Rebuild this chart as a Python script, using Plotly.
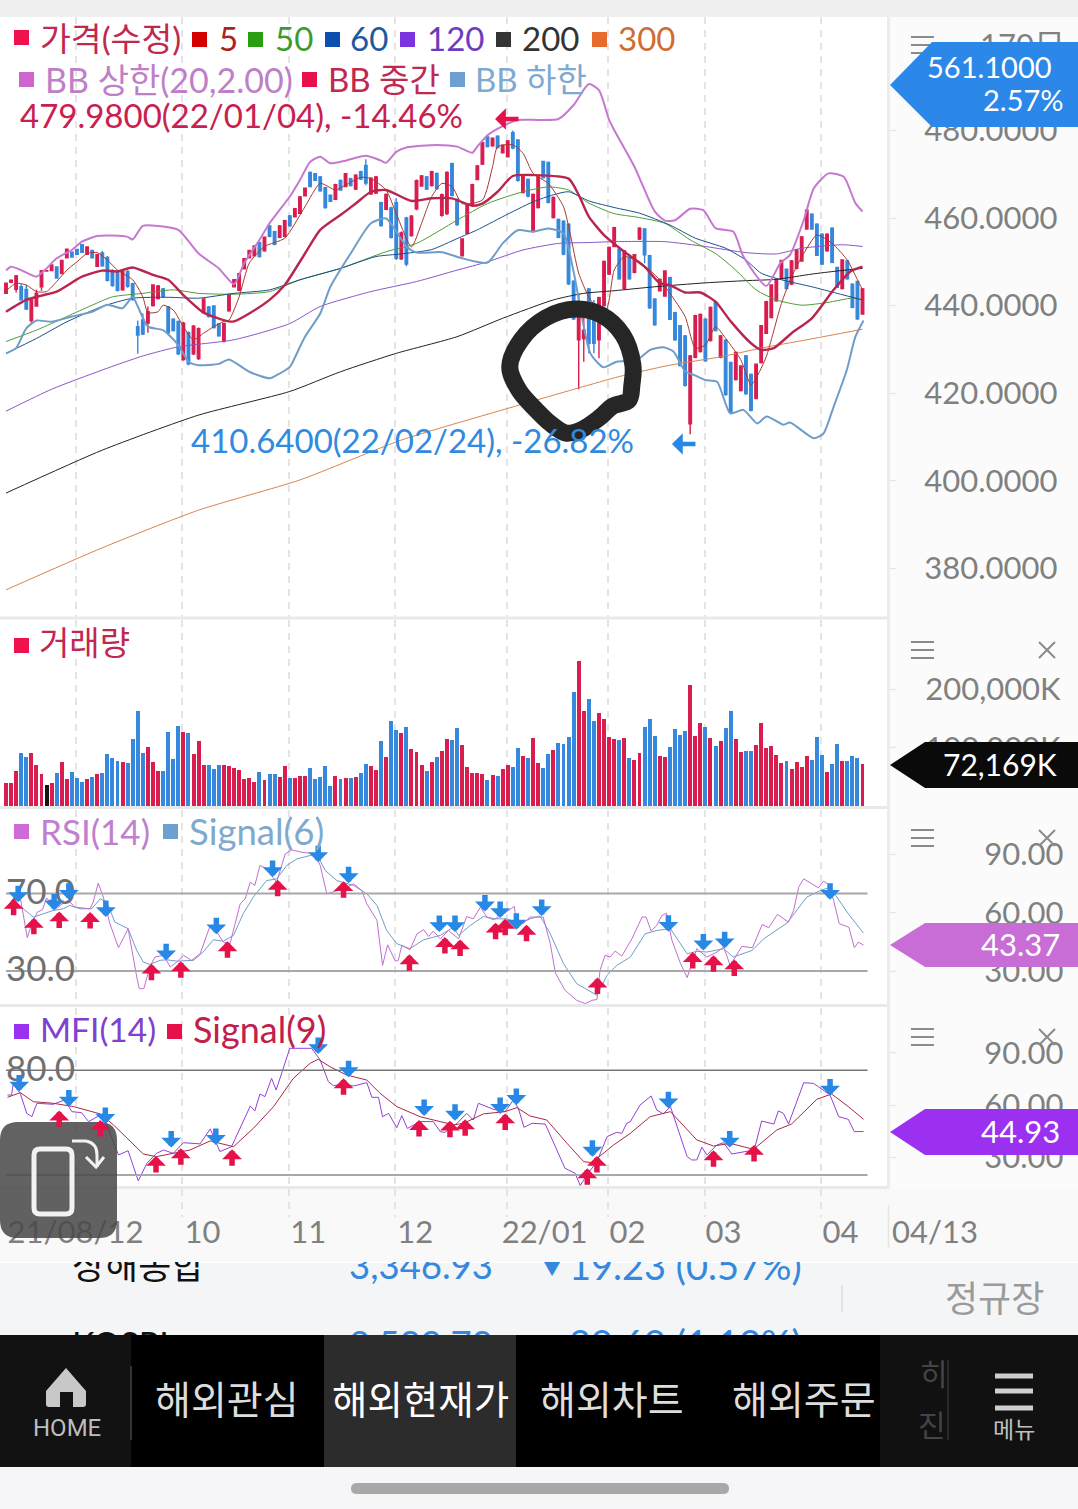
import plotly.graph_objects as go

# ---------- daily candles (index = trading day in the window) ----------
candle_open = [442.8,445.3,443.7,444.3,443.7,436.6,439.9,444.3,447.9,448.0,
448.8,447.3,450.9,452.2,452.8,453.9,451.7,452.6,449.0,452.0,
451.0,448.0,447.8,443.6,447.8,445.0,435.2,436.7,436.0,440.0,
441.6,443.8,439.7,436.9,436.4,427.7,433.8,429.0,427.9,438.4,
439.7,439.9,435.8,431.9,438.8,444.3,443.5,448.4,450.9,451.4,
454.4,452.5,458.2,456.9,455.6,455.8,460.5,460.3,461.1,465.1,
470.4,470.1,469.4,466.9,465.2,464.3,468.6,467.2,469.0,466.6,
470.6,472.0,465.5,465.7,463.5,462.0,462.3,463.5,450.7,460.0,
456.0,462.1,467.3,469.4,467.4,470.2,460.6,461.0,472.4,464.2,
451.4,456.5,462.9,468.8,472.3,478.5,476.5,478.7,474.9,474.0,
479.5,477.8,465.8,468.8,456.9,462.4,472.9,472.7,460.1,459.7,
459.3,458.6,445.6,432.2,432.5,443.8,439.0,432.2,440.0,447.2,
453.5,452.9,443.9,451.0,447.6,455.2,457.5,451.4,441.5,443.4,
442.2,446.4,438.4,435.4,433.1,413.0,428.2,429.5,436.9,432.0,
440.7,428.2,432.1,427.0,423.1,420.6,428.5,424.3,418.8,427.0,
433.7,437.3,441.1,446.1,448.3,444.9,448.5,450.2,457.5,460.9,
458.6,456.3,452.5,457.7,448.7,443.9,450.2,444.9,445.5,438.1]
candle_high = [445.1,445.9,447.0,444.9,444.7,441.4,443.6,448.1,448.1,449.4,
448.8,450.4,453.0,452.3,452.9,454.0,453.5,452.7,451.7,452.5,
451.3,448.3,448.1,448.3,448.1,445.2,436.6,438.2,439.8,444.9,
444.7,444.0,439.9,437.1,436.6,436.3,434.1,435.6,435.0,441.7,
439.9,440.1,436.0,436.1,442.7,446.0,447.5,450.8,452.7,453.7,
454.6,455.8,458.4,457.1,458.4,459.6,460.7,462.2,465.0,466.9,
470.6,470.2,469.6,467.1,465.3,467.8,468.8,470.3,469.2,470.0,
470.8,473.4,469.3,469.6,463.7,465.6,462.6,464.5,456.9,460.3,
460.7,468.8,469.8,469.6,470.8,470.4,465.6,470.7,472.7,464.5,
455.4,463.0,467.8,472.1,477.4,478.7,478.4,478.9,476.7,477.8,
479.98,478.0,469.8,469.0,465.6,469.6,473.1,472.9,464.9,459.9,
459.5,458.8,445.8,442.8,437.5,444.0,441.3,442.0,450.3,453.5,
458.0,453.1,452.7,451.2,451.8,457.9,457.7,451.6,441.7,446.2,
448.1,446.6,438.6,435.6,433.3,428.7,437.9,438.2,437.1,439.8,
440.9,433.3,432.3,427.2,429.5,426.4,428.7,424.5,426.8,435.6,
441.1,444.9,446.2,450.4,448.5,450.4,452.9,455.9,462.0,461.1,
458.8,456.5,456.5,457.9,448.9,450.6,450.4,445.1,445.7,444.0]
candle_low = [442.8,445.2,443.0,441.1,439.0,436.1,439.8,443.4,447.8,448.0,
446.2,447.2,450.8,451.0,451.6,452.1,451.6,450.8,448.9,448.9,
445.5,444.3,443.2,443.4,444.1,441.1,429.0,433.3,433.8,439.8,
441.4,441.9,433.5,434.1,428.7,427.4,426.4,428.7,427.6,438.2,
437.3,434.8,432.9,431.6,438.6,444.2,443.3,448.3,450.8,451.3,
451.0,452.3,455.6,453.8,455.4,455.6,458.0,460.2,460.9,465.0,
467.0,468.5,466.0,462.1,463.7,464.1,466.2,467.0,467.2,466.4,
468.7,467.5,465.3,465.5,458.0,461.8,455.3,450.4,450.4,449.0,
455.7,461.8,467.2,466.4,467.2,466.5,460.3,460.7,464.9,458.2,
451.2,456.3,462.7,468.7,472.1,476.1,476.3,475.9,474.8,473.8,
475.7,468.3,465.6,464.7,456.7,462.2,469.0,463.3,459.9,455.4,
451.5,444.7,436.7,420.9,427.2,429.1,429.1,428.0,439.8,447.0,
453.3,445.9,443.7,445.9,447.4,455.0,449.7,439.2,435.4,443.2,
442.0,436.7,432.0,426.1,421.5,410.64,428.0,429.3,427.2,431.8,
434.1,428.0,419.4,415.4,422.9,420.4,419.6,415.8,418.6,426.8,
433.5,437.1,440.9,446.0,443.7,444.7,448.3,450.0,457.3,457.3,
451.3,449.3,452.3,449.7,444.0,443.7,445.9,439.4,436.7,437.9]
candle_close = [445.1,445.8,446.8,441.3,439.2,441.3,442.8,448.0,448.0,449.3,
446.3,450.3,452.9,451.1,451.7,452.2,453.4,450.9,451.6,449.1,
445.8,444.6,443.5,448.1,444.4,441.4,433.3,433.5,438.6,444.7,
444.5,442.1,433.8,434.3,429.0,436.0,426.7,435.3,434.7,441.5,
437.5,435.0,433.1,435.9,442.5,445.9,447.3,450.7,452.6,453.6,
451.2,455.6,455.8,454.0,458.2,459.4,458.2,462.1,464.8,466.8,
467.2,468.6,466.2,462.4,463.8,467.6,466.4,470.1,467.4,469.8,
468.9,468.0,469.1,469.4,458.3,465.4,455.6,450.8,456.6,449.5,
460.4,468.5,469.6,466.6,470.6,466.7,465.3,470.4,465.2,458.5,
455.2,462.8,467.6,471.9,477.2,476.3,478.2,476.1,476.6,477.6,
476.0,468.6,469.6,465.0,465.4,469.4,469.2,463.6,464.7,455.6,
451.8,445.0,437.0,437.5,434.4,431.4,431.4,441.8,450.1,453.3,
457.8,446.1,452.5,446.1,451.6,457.7,451.6,439.5,435.6,446.0,
447.9,436.9,432.2,426.3,421.8,428.5,437.7,438.0,427.4,439.6,
434.3,433.1,419.7,415.7,429.3,426.2,419.9,416.1,426.6,435.4,
440.9,444.7,446.0,450.3,443.9,450.2,452.7,455.7,461.8,457.5,
451.5,449.5,456.3,449.9,444.2,450.4,446.1,439.6,437.0,443.8]
bar_index = list(range(len(candle_open)))

volume_k = [39000,39000,60700,91700,83700,91700,70500,54400,36100,40100,
56200,75600,47000,58400,48100,41300,47000,49900,55600,56200,
88800,82500,77400,76200,73900,115200,163300,91100,100800,75100,
60700,60200,127200,80800,137500,127200,125500,89400,111200,71100,
70500,63600,69900,69900,68800,65300,61300,46400,48100,40700,
57900,44700,55000,55000,50400,68800,48100,48100,51600,51600,
64700,47000,49900,68800,34400,51600,45800,48100,48100,50400,
56200,72200,68800,61900,112300,83700,146100,130100,125500,135800,
97400,93400,71100,59600,76200,84800,95100,115200,114000,133500,
105400,67600,56200,56200,55000,44700,52700,51600,64200,71100,
67600,100300,85400,82500,116300,73300,64700,88800,95700,108300,
106600,118600,196000,249300,163300,183900,146100,160400,149600,119200,
115200,112900,116300,83100,79100,90500,135800,150100,120300,86000,
83700,100800,131800,122000,128400,208000,120300,142700,135800,116300,
103100,111700,134700,162700,115200,92800,94500,94500,104900,142700,
100300,103700,87100,73300,77900,63600,76200,67600,85400,79100,
119200,87100,57900,72200,106000,76800,77900,86500,82500,72169]

# ---------- moving averages and Bollinger bands, sampled at turning points ----------
bb_upper_bar = [0,1,3,6,8,10,13,15,18,21,24,25,27,30,34,38,42,45,47,50,52,56,58,60,62,64,67,71,74,75,77,79,85,89,92,93,95,98,101,105,109,112,115,117,119,120,124,128,130,132,135,137.6,140,143.5,145.5,150,152.8,154.7,157.4,159.4,162.3,165.3,167.6,169]
bb_upper_val = [448.1,448.9,448.1,446.6,448.5,450.8,452.7,454.6,455.9,456.0,455.7,455.1,458.2,458.2,457.3,451.9,448.5,444.9,449.7,455.0,458.8,464.9,468.7,472.8,474.0,472.5,473.1,474.2,473.1,472.6,475.1,476.1,476.7,476.3,474.9,476.3,478.9,481.0,482.4,482.4,482.6,485.8,490.6,489.2,482.4,480.1,471.7,461.5,459.4,459.5,462.1,461.8,457.7,456.9,451.2,444.5,449.7,451.6,459.5,466.8,470.2,469.4,463.4,461.5]
bb_mid_bar = [0,4,7,10,15,19,22,25,29,32,35,39,44,45,48,52,55,59,62,66,69,72,75,80,84,88,92,94,97,100,104,111,113,115,118,122,126,129,131,134,137,140,143,147,149,151.5,155,159,163.3,166.6,169]
bb_mid_val = [438.6,441.3,442.3,443.2,446.6,448.0,447.8,448.7,447.0,445.9,442.4,438.4,436.4,436.4,438.2,441.3,444.7,451.9,457.3,460.7,463.3,466.0,466.4,463.9,464.5,464.5,462.8,463.3,466.0,469.6,469.8,469.0,465.3,460.3,456.1,452.3,448.9,445.1,444.7,443.0,443.0,440.9,436.4,431.4,429.9,430.3,433.7,437.1,443.6,447.8,448.9]
bb_lower_bar = [0,2,4,6,9,13,17,20,23,25,26,28,31,34,36,38,42,44,48,52,54,56,58,59,62,64,68,72,75,79,81,86,90,95,98,101,104,107,110,112,115.3,117.9,120.5,124.5,127.1,129.7,131.7,134,135.7,138,140.3,142.9,145.5,148.2,150.1,153.4,154.7,159.4,161.3,163.3,165.9,167.6,169.2]
bb_lower_val = [429.1,430.3,434.8,436.6,436.3,437.5,438.6,440.2,439.4,442.0,439.8,435.2,434.4,431.0,427.2,426.4,426.7,427.7,424.9,423.4,424.5,426.0,430.6,432.9,438.2,444.3,451.9,458.8,459.9,453.5,452.1,452.2,450.8,449.8,454.2,457.2,456.9,457.6,456.5,447.7,429.1,425.9,427.2,427.6,429.9,430.5,429.5,425.0,424.2,423.0,422.6,415.4,416.2,413.1,414.7,412.8,413.3,409.7,410.8,416.9,425.3,432.9,436.6]
ma5_bar = [0,2,4,6,8,10,12,14,16,18,20,22,25,27,28,30,31,33,35,37,39,41,43,44,46,48,51,55,59,62,65,67,70,72,75,77,80,82,84,86,88,90,94,96,97,100,102,104,107,110,111.3,113,115,118,119,120,122,125,129,131,134,136,138,140,142.2,145,147,148,150,153,155,157.4,160,163,166,168,169]
ma5_val = [443.4,445.1,444.7,443.2,443.2,445.5,448.1,450.0,451.9,452.1,450.4,448.1,445.9,442.0,438.4,438.6,440.1,439.0,435.2,432.2,433.7,435.2,436.4,436.7,442.0,449.7,453.5,455.4,462.6,467.9,466.4,467.5,469.3,469.0,466.4,461.0,453.4,458.8,464.9,467.9,467.2,463.3,464.1,471.7,476.3,476.7,474.8,470.2,467.9,462.6,456.5,447.4,442.0,437.5,441.3,448.1,451.2,450.0,445.9,442.8,437.5,430.3,431.0,435.2,432.2,427.6,421.9,423.4,428.3,440.5,446.6,451.9,456.1,454.2,450.4,445.9,443.6]
ma50_bar = [0,6,12,17,21,27,33,38,45,52,58,66,75,81,89,95,102,107,111,115,120,124.5,130,135,140,144,148,152,157,162,167,169]
ma50_val = [431.8,434.4,437.5,440.1,442.0,442.8,443.6,442.8,442.6,443.2,445.9,448.5,452.3,454.2,459.5,463.3,466.0,467.1,466.4,463.4,461.0,460.2,458.8,455.0,451.9,448.1,443.6,441.3,440.1,440.7,441.7,441.3]
ma60_bar = [0,6,12,19,25,32,38,45,52,58,66,73,78,84,89,93,98,104,108,111,115,120,125,131,136,142,146,149,153,159,164,169]
ma60_val = [429.1,432.5,436.3,439.8,441.7,441.9,441.7,442.8,443.6,445.9,448.5,451.2,451.8,452.8,455.3,457.3,460.3,463.7,465.3,466.0,463.9,462.4,461.1,458.4,455.4,453.1,450.4,447.4,445.9,444.3,442.8,441.3]
ma120_bar = [0,9,19,27,34,45,56,62,72,81,89,95,102,109,115,120,130,138,146,152,157,165,169]
ma120_val = [415.9,420.9,425.3,428.5,430.6,432.2,435.9,439.8,443.2,445.5,448.1,450.0,452.7,454.2,454.4,454.6,454.6,453.5,452.1,451.8,453.1,453.9,453.5]
ma200_bar = [0,19,38,56,66,77,89,98,108,114,120,128,138,146,152,159,164,169]
ma200_val = [397.2,407.0,415.0,420.4,424.9,429.1,432.9,437.1,441.3,442.8,443.4,444.3,445.2,445.7,446.0,447.2,447.9,448.5]
ma300_bar = [0,19,38,58,78,98,113,121,131,141,149,158,169]
ma300_val = [375.1,384.7,393.3,400.2,409.3,416.2,421.2,423.8,426.4,428.3,430.3,432.2,434.6]

# ---------- RSI(14) and its signal ----------
rsi_bar = [0.3,1.4,2.9,4.2,5.1,6.2,7.2,8,9,10.3,11.3,12.3,13.6,16.6,17.2,18.2,19.2,20.5,22.2,24.1,25.8,26.3,27.2,28.4,29.4,31.1,32.4,33.7,35,36.6,38.3,40.3,41.6,42.9,44.2,46.2,47.2,48.2,49.1,50.1,51.4,53.4,55.1,56.4,58.4,61,62,63.3,66.6,68.6,70.2,71.2,73.2,74.3,75.3,76.8,77.4,78.1,79.7,81.1,82.4,83.4,84.3,85.7,87.3,89.3,90.9,92.2,93.6,94.9,96.2,98.2,100.3,100.7,102,103.4,106,107.4,108.4,110.3,112.6,114.3,115.6,116.6,117.2,118.2,119.2,120.2,121.5,123.5,125.5,126.3,127.3,128.4,129.4,130.3,131.4,133.1,134.4,136.3,138.3,140.3,141.6,142.9,145.2,147.3,149.2,150.5,152.2,154.4,155.4,156.4,157.4,160.3,161.3,162.3,163.3,164.4,166.3,167.4,168.2,169.2]
rsi_val = [62.9,67.2,66.7,47.2,54.4,60.4,61.6,67.7,64.6,62.9,65.0,66.4,62.9,62.1,65.5,75.3,68.1,54.4,42.0,51.8,26.9,20.9,20.9,32.4,37.2,38.1,32.1,34.6,38.1,35.5,38.9,53.5,50.1,44.9,44.1,64.6,67.2,75.8,74.1,84.4,82.7,75.8,90.4,92.4,91.2,90.4,84.4,69.8,72.4,74.9,71.5,64.6,56.1,32.9,43.5,35.1,35.5,43.2,41.0,49.2,51.3,47.8,50.6,46.6,50.9,46.6,58.1,56.9,62.9,57.8,56.4,59.5,63.3,54.4,54.4,57.8,57.8,44.1,29.0,20.1,14.9,13.2,14.9,15.3,30.3,38.1,37.2,40.3,37.7,46.6,57.8,57.8,50.6,53.5,58.6,59.8,45.8,33.8,26.6,41.5,37.2,39.8,42.3,32.9,42.7,42.0,54.0,52.3,59.2,55.2,61.2,73.2,77.5,72.9,76.3,74.6,66.4,54.4,52.6,42.0,44.9,43.37]
rsi_signal_bar = [1.4,5.4,7.4,9.3,11.3,12.6,14.6,16.9,18.6,19.9,21.5,24.1,25.8,27.1,28.4,30.4,31.7,33.7,37,38.9,40.9,42.9,44.9,46.8,48.8,51.4,53.4,55.4,57.4,61.3,63,65.3,68.6,71.2,73.2,75.1,77.1,79.7,82.4,85.7,88.3,89.3,91.6,94.2,96.5,98.8,101.4,103.4,105.4,107.4,110,112.6,116.6,118.6,120.5,123.2,126.1,128.4,131.1,134.4,136.3,138.3,141.6,143.5,147.2,149.5,154.1,158,160.7,162.6,166.2,169.2]
rsi_signal_val = [66.4,57.8,59.5,61.2,62.1,63.8,62.1,62.1,67.2,65.5,55.2,51.8,40.6,34.6,33.4,35.5,35.8,35.1,35.5,39.8,46.1,45.4,48.4,59.5,68.1,76.6,77.5,84.4,87.8,90.4,81.8,76.6,74.1,69.8,63.8,50.9,44.1,41.5,46.1,48.4,52.6,48.4,53.5,58.1,56.9,56.9,54.4,56.9,58.3,49.2,33.8,23.5,17.5,27.8,32.9,37.2,49.2,50.9,51.8,38.9,40.1,39.8,41.5,37.2,40.6,46.6,54.7,68.1,71.5,73.2,59.5,49.5]
rsi_buy_bar = [1.5,5.5,10.5,16.6,28.7,34.5,43.7,53.6,66.6,79.6,86.6,89.6,96.6,98.5,102.7,116.7,135.5,139.6,143.7]
rsi_buy_val = [67.2,57.4,60.7,60.4,33.8,35.0,45.3,77.0,76.3,38.6,47.5,46.3,54.9,56.9,53.8,26.6,39.8,38.1,36.0]
rsi_sell_bar = [2.4,9.5,12.4,19.7,31.6,41.5,52.6,61.6,67.6,85.5,88.6,94.5,97.5,100.7,105.7,130.7,137.6,141.8,162.6]
rsi_sell_val = [65.5,61.2,66.7,57.8,35.5,48.9,78.4,86.1,75.3,50.1,50.1,60.7,57.3,51.3,58.3,50.2,40.6,41.7,66.7]

# ---------- MFI(14) and its signal ----------
mfi_bar = [0.3,1.1,1.4,2.8,4.1,5.1,6.1,9.3,11.6,13,14.9,16.3,19.2,20.5,22.2,24.1,26.1,27.8,29.7,31.1,33,35,38.3,40.3,42.2,44.5,48.2,49.1,50.1,51.1,52.4,53.3,56,60.3,62,63.6,64.6,66.6,68.6,71.2,72.2,73.5,74.3,75.5,77.1,78.1,79.2,81.7,84.3,85.7,86.6,89,90.9,92.2,93.2,96.2,98.5,100.1,101.1,102.2,103.8,106.4,110.3,112.3,113.3,114.6,116.6,118.6,120.5,121.5,122.5,123.2,125.1,127.3,128.4,129.7,131.1,134.4,135.3,136.3,137.3,138.3,140.3,141.6,143.2,146.8,147.8,149.1,151.5,152.4,153.4,154.4,157.4,159.3,160.3,162.6,164.3,166.2,167.4,169.2]
mfi_val = [65.8,65.8,72.1,66.8,55.3,53.4,61.1,60.5,63.0,56.3,55.7,50.6,55.3,43.9,31.5,33.9,16.6,26.7,32.4,34.3,32.4,38.5,37.8,46.4,33.4,36.2,59.5,56.7,66.4,64.9,75.4,68.7,92.6,92.6,85.9,73.5,71.2,72.1,71.0,72.9,64.5,64.5,53.4,55.3,47.1,54.0,46.7,50.6,50.6,44.8,44.4,49.6,55.3,51.5,61.1,57.6,56.3,63.0,58.2,47.3,49.6,49.2,23.8,21.0,13.9,20.0,27.6,42.0,44.4,43.9,49.6,50.6,60.1,65.3,57.2,55.0,59.2,30.5,28.6,28.6,35.9,31.5,37.2,38.5,32.0,33.9,36.2,50.9,49.2,56.7,55.3,49.2,72.9,72.5,70.6,65.8,53.4,51.9,44.8,44.93]
mfi_signal_bar = [0.3,2.8,5.4,9.3,13.3,18.6,21.2,24.5,27.1,29.7,33,36.3,40.3,44.9,48.8,52.8,56.7,60,61.6,63.9,67.2,71.2,73.8,77.1,81.7,85.7,88.3,90.3,94.2,98.5,100.8,103.4,106.7,110.7,114,115.6,119.9,123.2,127.1,131.1,136.3,139.6,142.9,147.5,152.1,155,160,162.9,166.2,169.2]
mfi_signal_val = [64.5,67.2,62.0,61.1,59.2,55.0,48.7,39.1,32.0,30.5,32.4,34.3,39.5,36.2,46.7,59.2,75.4,84.0,86.3,82.1,77.3,74.4,66.8,59.2,53.4,50.6,48.7,49.6,55.0,56.3,58.6,53.8,51.5,38.1,27.6,27.1,37.2,43.9,53.4,56.3,40.1,36.6,38.1,34.7,45.8,49.2,63.4,66.4,59.2,51.9]
mfi_buy_bar = [10.5,18.6,29.6,34.5,44.6,66.6,81.5,87.6,90.6,98.5,114.7,116.6,139.6,147.6]
mfi_buy_val = [56.9,51.5,30.9,35.3,34.7,75.4,51.5,51.1,51.9,55.3,23.8,30.9,34.1,37.2]
mfi_sell_bar = [2.6,12.4,19.6,32.6,41.4,61.6,67.6,82.5,88.6,97.5,100.7,115.7,130.7,142.8,162.6]
mfi_sell_val = [67.8,59.2,49.2,35.7,37.2,89.3,76.0,53.8,51.1,55.0,60.1,30.5,58.2,35.7,65.5]

# ---------- hand-drawn ring around the February low ----------
ring_bar = [122.9,119.8,117,113.4,110.5,107.5,104.6,101.2,99.4,101.6,106.5,112.5,117.4,121.7,123.7,123.5,122.9]
ring_price = [418.4,417.1,414.3,411.6,410.9,413.0,416.2,420.7,426.0,432.1,437.2,439.2,437.9,433.3,426.4,421.9,418.4]

month_bars = [13.8,34.8,55.9,76.8,98.9,118.8,137.9,160.8]
date_label_bars = [0.3,35.2,56.1,77.2,97.8,119.1,138.0,161.1]
date_labels = ["21/08/12","10","11","12","22/01","02","03","04"]
price_ticks = [380,400,420,440,460,480]

W, H = 1078, 1509
FONT = "Lato, 'Noto Sans CJK KR', sans-serif"
KR = "'Noto Sans CJK KR', sans-serif"
RED, BLUE = "#d91d4f", "#3588dc"
GREY = "#808080"

def ydom(top, bottom):
    return [1 - bottom / H, 1 - top / H]

XRANGE = [-1.184, 174.03]
XDOM = [0, 888 / W]

fig = go.Figure()

def line(xs, ys, color, width, axes=("x2", "y2"), smooth=0.6):
    fig.add_trace(go.Scatter(
        x=xs, y=ys, mode="lines", xaxis=axes[0], yaxis=axes[1], hoverinfo="skip",
        line=dict(color=color, width=width, shape="spline" if smooth else "linear",
                  **({"smoothing": smooth} if smooth else {}))))

def page_text(x, y, text, color, size, family=FONT, pos="middle right"):
    # Text that sits under the overlay bars, so bars can crop it.
    fig.add_trace(go.Scatter(
        x=[x], y=[y], text=[text], mode="text", xaxis="x", yaxis="y", hoverinfo="skip",
        textposition=pos, textfont=dict(color=color, size=size, family=family)))

# page-level text sits in the pixel-scaled subplot, which is drawn first
page_text(980, 48, "170日", GREY, 31)
page_text(892, 1235, "04/13", GREY, 31)
page_text(72, 1270, "상해종합", "#111111", 36, KR)
page_text(349, 1270, "3,346.93", BLUE, 36.5)
page_text(541, 1268, "▼", BLUE, 22)
page_text(569, 1270, "19.23 (0.57%)", BLUE, 38)
page_text(72, 1348, "KOSPI", "#111111", 34)
page_text(349, 1348, "2,599.79", BLUE, 36.5)
page_text(541, 1346, "▼", BLUE, 22)
page_text(569, 1348, "29.69 (1.12%)", BLUE, 38)

# price panel
fig.add_trace(go.Candlestick(
    x=bar_index, open=candle_open, high=candle_high, low=candle_low, close=candle_close,
    xaxis="x2", yaxis="y2", hoverinfo="skip", whiskerwidth=0,
    increasing=dict(line=dict(color=RED, width=1.4), fillcolor=RED),
    decreasing=dict(line=dict(color=BLUE, width=1.4), fillcolor=BLUE)))
line(ma300_bar, ma300_val, "#d9834f", 1)
line(ma200_bar, ma200_val, "#222222", 1)
line(ma120_bar, ma120_val, "#8c55c9", 1)
line(ma50_bar, ma50_val, "#4f9c36", 1)
line(ma60_bar, ma60_val, "#1c4f8c", 1)
line(bb_upper_bar, bb_upper_val, "#c678d0", 2)
line(bb_lower_bar, bb_lower_val, "#6f9dc8", 2)
line(bb_mid_bar, bb_mid_val, "#b8254f", 2.4)
line(ma5_bar, ma5_val, "#a53a2c", 1)
line(ring_bar, ring_price, "#262626", 17, smooth=1.0)

# volume panel
vol_colors = [RED if c >= o else BLUE for o, c in zip(candle_open, candle_close)]
vol_colors[8] = "#141414"
fig.add_trace(go.Bar(x=bar_index, y=volume_k, xaxis="x3", yaxis="y3", width=0.78,
                     marker=dict(color=vol_colors, line=dict(width=0)), hoverinfo="skip"))

# RSI panel: the band levels carry the left-hand labels, the lines the right-hand scale
for level in (70, 30):
    line([0, 170], [level, level], "#a8a8a8", 2, ("x4", "y7"), False)
line(rsi_signal_bar, rsi_signal_val, "#6f9dc8", 1, ("x4", "y4"), False)
line(rsi_bar, rsi_val, "#c06fd0", 1, ("x4", "y4"), False)

# MFI panel
line([0, 170], [80, 80], "#777777", 1.5, ("x5", "y8"), False)
line([0, 170], [20, 20], "#a8a8a8", 2, ("x5", "y8"), False)
line(mfi_bar, mfi_val, "#9440d8", 1, ("x5", "y5"), False)
line(mfi_signal_bar, mfi_signal_val, "#a82a45", 1, ("x5", "y5"), False)

# date strip below the panels
fig.add_trace(go.Scatter(x=[0], y=[0], mode="none", xaxis="x6", yaxis="y6", hoverinfo="skip"))
fig.add_trace(go.Scatter(x=[0], y=[0], mode="none", xaxis="x7", yaxis="y6", hoverinfo="skip"))

annotations = []

def signal_arrow(x, y, xref, yref, up):
    annotations.append(dict(
        x=x, y=y, xref=xref, yref=yref, text="", showarrow=True, ax=0, ay=18 if up else -18,
        arrowhead=1, arrowwidth=5.5, arrowsize=0.6, arrowcolor="#e5124a" if up else "#2788e6"))

for bars, vals, xref, yref, up in [
    (rsi_buy_bar, rsi_buy_val, "x4", "y4", True),
    (rsi_sell_bar, rsi_sell_val, "x4", "y4", False),
    (mfi_buy_bar, mfi_buy_val, "x5", "y5", True),
    (mfi_sell_bar, mfi_sell_val, "x5", "y5", False)]:
    for b, v in zip(bars, vals):
        signal_arrow(b, v, xref, yref, up)

# high and low markers on the price panel
annotations.append(dict(x=96.5, y=482.6, xref="x2", yref="y2", text="", showarrow=True, ax=25, ay=0,
                        arrowhead=1, arrowwidth=4.5, arrowsize=0.8, arrowcolor="#e5124a"))
annotations.append(dict(x=131.4, y=408.4, xref="x2", yref="y2", text="", showarrow=True, ax=25, ay=0,
                        arrowhead=1, arrowwidth=4.5, arrowsize=0.8, arrowcolor="#2788e6"))

def label(x, y, text, color, size=33, anchor="left", family=FONT):
    nudge = {"left": -2.5, "right": 2, "center": 0}[anchor]
    annotations.append(dict(x=x + nudge, y=y, xref="x", yref="y", text=text, showarrow=False,
                            xanchor=anchor, yanchor="middle",
                            font=dict(color=color, size=size, family=family)))

shapes = []

def rect(x0, y0, x1, y1, color, layer="above"):
    shapes.append(dict(type="rect", xref="x", yref="y", x0=x0, y0=y0, x1=x1, y1=y1,
                       fillcolor=color, line=dict(width=0), layer=layer))

def seg(x0, y0, x1, y1, color, width):
    shapes.append(dict(type="line", xref="x", yref="y", x0=x0, y0=y0, x1=x1, y1=y1,
                       line=dict(color=color, width=width), layer="above"))

def path(d, fill, line_color=None, line_width=0):
    shapes.append(dict(type="path", xref="x", yref="y", path=d, fillcolor=fill,
                       line=dict(color=line_color or "rgba(0,0,0,0)", width=line_width), layer="above"))

# backgrounds behind everything
rect(0, 0, W, 17, "#f0f0f0", "below")
rect(890, 17, W, 1189, "#fbfbfb", "below")
rect(0, 1189, W, 1262, "#f9f9f9", "below")
rect(0, 1263, W, 1335, "#f4f5f6", "below")

# panel separators
for y in (618, 807.5, 1005.5, 1187.5):
    seg(0, y, 888, y, "#e9e9e9", 3)
seg(888.5, 17, 888.5, 1189, "#ececec", 3)
seg(888.5, 1205, 888.5, 1258, "#e6e6e6", 1.5)
rect(0, 1248, W, 1262, "#f9f9f9")

# legend rows
for x0, y0, color in [(14, 30, "#f0124f"), (192, 32, "#d40000"), (248, 32, "#2a9e10"), (325, 32, "#0d4fae"),
                      (400, 32, "#7b33e0"), (496, 32, "#333333"), (592, 32, "#e96a2d"),
                      (19, 72, "#cc66cc"), (302, 72, "#e8104a"), (450, 72, "#6d9fd0"),
                      (14, 638, "#f0124f"), (14, 824, "#d06ad8"), (163, 824, "#6d9fd0"),
                      (14, 1024, "#9b30f0"), (167, 1024, "#e8104a")]:
    rect(x0, y0, x0 + 15, y0 + 15, color)

label(40, 38, "가격(수정)", "#c2274f", 33.5)
label(219, 38, "5", "#a8241e")
label(275, 38, "50", "#3d9a2f")
label(350, 38, "60", "#1a5aa0")
label(427, 38, "120", "#6c3cc0")
label(522, 38, "200", "#333333")
label(618, 38, "300", "#cf6c34")
label(45, 79, "BB 상한(20,2.00)", "#bf7fc8", 34)
label(328, 79, "BB 중간", "#c2274f", 33)
label(475, 79, "BB 하한", "#7fa9cf", 33)
label(20, 115, "479.9800(22/01/04), -14.46%", "#c8204f")
label(191, 440, "410.6400(22/02/24), -26.82%", "#2f8ae0")
label(39, 642, "거래량", "#c2274f", 33)
label(40, 831, "RSI(14)", "#c07fd0", 35)
label(189, 831, "Signal(6)", "#7fa9cf", 36.5)
label(40, 1029, "MFI(14)", "#8040d0", 33.5)
label(193, 1029, "Signal(9)", "#c2204a", 36)

# panel icons
for y in (45, 650, 838, 1037):
    for dy in (-8, 0, 8):
        seg(911, y + dy, 934, y + dy, "#8a8a8a", 2)
for y in (650, 838, 1037):
    seg(1039, y - 8, 1055, y + 8, "#8a8a8a", 2)
    seg(1055, y - 8, 1039, y + 8, "#8a8a8a", 2)

# last-value tags
path("M 890 85 L 932 42 L 1078 42 L 1078 127 L 932 127 Z", "#2b87e8")
path("M 890 765 L 925 742 L 1078 742 L 1078 788 L 925 788 Z", "#0a0a0a")
path("M 890 945 L 925 923 L 1078 923 L 1078 967 L 925 967 Z", "#c96dd6")
path("M 890 1132 L 925 1109 L 1078 1109 L 1078 1155 L 925 1155 Z", "#9b30f0")
label(1052, 66, "561.1000", "#ffffff", 29, "right")
label(1064, 99, "2.57%", "#ffffff", 29, "right")
label(1057, 764, "72,169K", "#ffffff", 30, "right")
label(1060, 944, "43.37", "#ffffff", 31, "right")
label(1060, 1131, "44.93", "#ffffff", 31, "right")

# floating rotate button
path("M 18 1122 L 99 1122 Q 117 1122 117 1140 L 117 1220 Q 117 1238 99 1238 L 18 1238 Q 0 1238 0 1220 "
     "L 0 1140 Q 0 1122 18 1122 Z", "rgba(72,72,72,0.86)")
path("M 40 1149 L 66 1149 Q 72 1149 72 1155 L 72 1208 Q 72 1214 66 1214 L 40 1214 Q 34 1214 34 1208 "
     "L 34 1155 Q 34 1149 40 1149 Z", "rgba(0,0,0,0)", "#f2f2f2", 5)
path("M 72 1141 L 86 1141 Q 97 1143 97 1155 L 97 1167", "rgba(0,0,0,0)", "#f2f2f2", 3)
path("M 86 1157 L 96 1167 L 104 1157", "rgba(0,0,0,0)", "#f2f2f2", 3)

# market session divider and label
seg(842, 1285, 842, 1312, "#e2e2e2", 2)
label(994, 1296, "정규장", "#9a9a9a", 36, "center", KR)

# bottom navigation
rect(0, 1335, 131, 1467, "#121212")
rect(131, 1335, 324, 1467, "#000000")
rect(324, 1335, 516, 1467, "#2c2c2c")
rect(516, 1335, 880, 1467, "#000000")
rect(880, 1335, W, 1467, "#111111")
seg(131, 1366, 131, 1440, "#333333", 2)
seg(948, 1360, 948, 1440, "#333333", 1.5)
path("M 46 1391 L 66 1368 L 86 1391 L 86 1404 Q 86 1407 83 1407 L 73 1407 L 73 1392 L 60 1392 L 60 1407 "
     "L 49 1407 Q 46 1407 46 1404 Z", "#c8c8c8")
label(67, 1428, "HOME", "#bdbdbd", 24, "center", "Roboto, sans-serif")
label(227, 1397, "해외관심", "#dddddd", 39, "center", KR)
label(420, 1397, "해외현재가", "#ffffff", 38.5, "center", KR)
label(612, 1397, "해외차트", "#dddddd", 39, "center", KR)
label(804, 1397, "해외주문", "#dddddd", 39, "center", KR)
label(934, 1372, "히", "#444444", 30, "center", KR)
label(932, 1423, "진", "#444444", 30, "center", KR)
label(1014, 1428, "메뉴", "#c0c0c0", 23, "center", KR)
for y in (1376, 1391, 1408):
    seg(995, y, 1033, y, "#cfcfcf", 5)

# system gesture bar
rect(0, 1467, W, H, "#f6f6f8")
path("M 357 1483 L 723 1483 Q 729 1483 729 1488.5 Q 729 1494 723 1494 L 357 1494 Q 351 1494 351 1488.5 "
     "Q 351 1483 357 1483 Z", "#a8a8a8")


def grid_xaxis(dom=XDOM):
    return dict(domain=dom, range=XRANGE, showticklabels=False, ticks="", showline=False,
                zeroline=False, tickmode="array", tickvals=month_bars, showgrid=True,
                gridcolor="#e4e4e4", gridwidth=2, griddash="7px,6px", fixedrange=True,
                rangeslider=dict(visible=False))

def right_axis(top, bottom, rng, tickvals, ticktext, standoff):
    return dict(domain=ydom(top, bottom), range=rng, side="right", anchor="free", position=888 / W,
                tickmode="array", tickvals=tickvals, ticktext=ticktext, showgrid=False, zeroline=False,
                showline=False, ticks="outside", ticklen=7, tickcolor="#e4e4e4", tickwidth=1,
                ticklabelstandoff=standoff, fixedrange=True,
                tickfont=dict(color=GREY, size=31, family=FONT))

def left_axis(top, bottom, rng, tickvals, ticktext, over):
    return dict(domain=ydom(top, bottom), range=rng, side="left", anchor=over[0], overlaying=over[1],
                tickmode="array", tickvals=tickvals, ticktext=ticktext, ticklabelposition="inside",
                ticklabelstandoff=3, ticklabelshift=-2,
                showgrid=False, zeroline=False, showline=False, ticks="", fixedrange=True,
                tickfont=dict(color="#707070", size=35, family=FONT))

fig.update_layout(
    width=W, height=H, autosize=False, margin=dict(l=0, r=0, t=0, b=0, pad=0),
    paper_bgcolor="#ffffff", plot_bgcolor="rgba(0,0,0,0)", showlegend=False, bargap=0,
    annotations=annotations, shapes=shapes, hovermode=False,
    xaxis=dict(domain=[0, 1], range=[0, W], visible=False, fixedrange=True),
    yaxis=dict(domain=[0, 1], range=[H, 0], visible=False, fixedrange=True),
    xaxis2=grid_xaxis(), xaxis3=grid_xaxis(), xaxis4=grid_xaxis(), xaxis5=grid_xaxis(), xaxis6=grid_xaxis(),
    xaxis7=dict(domain=XDOM, range=XRANGE, overlaying="x6", anchor="y6", side="bottom", showgrid=False,
                zeroline=False, showline=False, ticks="", tickmode="array", tickvals=date_label_bars,
                ticktext=date_labels, ticklabelposition="outside right", ticklabelstandoff=-6, fixedrange=True,
                tickfont=dict(color=GREY, size=31, family=FONT)),
    yaxis2=right_axis(17, 617, [368.9, 505.9], price_ticks, [f"{t}.0000" for t in price_ticks], 22),
    yaxis3=right_axis(620, 806, [0, 319588], [100000, 200000], ["100,000K", "200,000K"], 23),
    yaxis4=right_axis(810, 1004, [13, 113], [30, 60, 90], ["30.00", "60.00", "90.00"], 82),
    yaxis5=right_axis(1008, 1187, [13.1, 115.7], [30, 60, 90], ["30.00", "60.00", "90.00"], 82),
    yaxis6=dict(domain=ydom(1189, 1217), range=[0, 1], visible=False, fixedrange=True),
    yaxis7=left_axis(810, 1004, [13, 113], [30, 70], ["30.0", "70.0"], ("x4", "y4")),
    yaxis8=left_axis(1008, 1187, [13.1, 115.7], [20, 80], ["20.0", "80.0"], ("x5", "y5")),
)

fig.write_html("out.html", config=dict(displayModeBar=False, staticPlot=True))
